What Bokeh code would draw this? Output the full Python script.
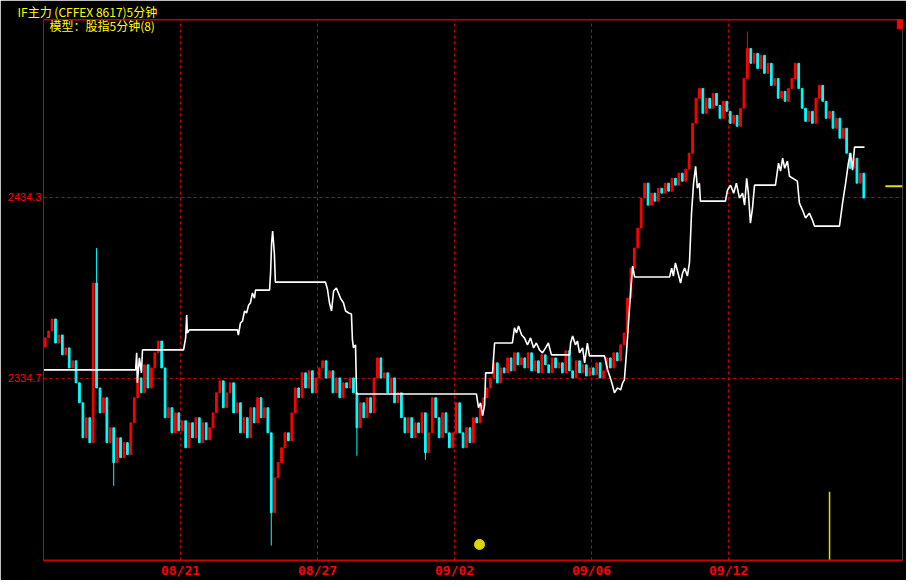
from bokeh.plotting import figure
from bokeh.models import FixedTicker, LinearAxis, Label, Range1d, ColumnDataSource
from bokeh.embed import file_html
from bokeh.resources import INLINE

# ---------------- data ----------------
title_text = "IF主力  (CFFEX 8617)5分钟"
model_text = "模型：股指5分钟(8)"

# x unit: one tenth of a trading day (10 bars per day), 08/15 starts at 0
date_ticks = [40, 80, 120, 160, 200]
date_labels = ["08/21", "08/27", "09/02", "09/06", "09/12"]
price_ticks = [2334.7, 2434.3]
price_labels = ["2334.7", "2434.3"]

first_open = 2352.0
close = [
    2357.0, 2360.8, 2367.4, 2354.2, 2358.6, 2347.7, 2351.5, 2340.5, 2344.4, 2332.3,
    2321.3, 2302.1, 2313.1, 2299.4, 2387.2, 2329.5, 2315.8, 2324.1, 2299.4, 2307.6,
    2288.4, 2302.1, 2291.1, 2299.4, 2292.8, 2310.3, 2324.1, 2335.0, 2326.8, 2342.2,
    2329.5, 2340.5, 2348.8, 2355.3, 2340.5, 2313.1, 2318.6, 2304.8, 2315.8, 2305.9,
    2311.4, 2296.6, 2310.3, 2302.1, 2313.1, 2299.4, 2310.3, 2301.0, 2307.6, 2315.8,
    2326.8, 2333.4, 2318.6, 2326.8, 2332.3, 2315.8, 2321.3, 2304.8, 2313.1, 2302.1,
    2318.6, 2310.3, 2324.1, 2313.1, 2318.6, 2304.8, 2260.9, 2280.1, 2288.4, 2296.6,
    2304.8, 2300.4, 2315.8, 2329.5, 2324.1, 2337.8, 2329.5, 2338.9, 2326.8, 2335.0,
    2340.5, 2344.4, 2335.0, 2338.9, 2326.8, 2335.0, 2324.1, 2332.3, 2329.5, 2335.0,
    2326.8, 2307.6, 2321.3, 2313.1, 2324.1, 2315.8, 2335.0, 2346.0, 2335.0, 2337.8,
    2326.8, 2335.0, 2321.3, 2326.8, 2313.1, 2304.8, 2313.1, 2302.1, 2310.3, 2304.8,
    2315.8, 2293.9, 2304.8, 2324.1, 2313.1, 2302.1, 2315.8, 2304.8, 2296.6, 2304.8,
    2321.3, 2304.8, 2296.6, 2307.6, 2299.4, 2313.1, 2310.3, 2318.6, 2324.1, 2329.5,
    2335.0, 2343.3, 2332.3, 2340.5, 2337.8, 2346.0, 2338.9, 2348.8, 2342.2, 2346.0,
    2340.5, 2348.8, 2338.9, 2344.4, 2337.8, 2347.7, 2342.2, 2337.8, 2346.0, 2340.5,
    2343.3, 2337.8, 2349.9, 2338.9, 2335.0, 2344.4, 2337.8, 2342.2, 2336.1, 2340.5,
    2336.7, 2343.3, 2335.0, 2338.9, 2346.0, 2340.5, 2348.8, 2344.4, 2353.2, 2359.7,
    2378.9, 2395.4, 2406.4, 2417.4, 2433.9, 2442.1, 2430.0, 2436.6, 2432.2, 2439.3,
    2436.6, 2442.1, 2437.7, 2444.8, 2441.0, 2447.6, 2443.2, 2449.8, 2458.6, 2475.0,
    2488.8, 2494.2, 2480.5, 2488.8, 2483.3, 2491.5, 2484.9, 2477.8, 2487.1, 2481.6,
    2475.0, 2479.4, 2473.4, 2483.3, 2499.7, 2516.2, 2508.0, 2513.5, 2505.2, 2512.4,
    2502.5, 2508.0, 2495.9, 2499.7, 2488.8, 2492.6, 2487.1, 2494.2, 2499.7, 2508.0,
    2494.2, 2483.3, 2476.1, 2481.6, 2475.0, 2488.8, 2495.9, 2487.1, 2477.8, 2481.6,
    2472.3, 2477.8, 2466.8, 2472.3, 2458.6, 2450.3, 2455.8, 2442.1, 2447.6, 2433.9,
]

# extra wicks on a few bars
wick_idx = [15, 20, 66, 91, 111, 205]
wick_hi = [2406.4, 2307.6, 2304.8, 2326.8, 2315.8, 2525.5]
wick_lo = [2329.5, 2275.7, 2242.8, 2292.2, 2290.0, 2499.7]

# model line (white)
model_x = [
    0, 26.9, 27.2, 27.4, 28.0, 28.6, 28.9,
    40.6, 40.9, 41.5, 41.8, 42.0, 42.6, 56.6, 56.9, 57.5, 58.1, 58.7, 59.3, 59.9, 60.4, 61.0, 61.6, 61.9,
    66.0, 66.3, 66.6, 66.9, 67.4, 67.7, 82.3, 82.9, 83.5, 84.1, 84.7, 85.5, 86.1, 86.7, 87.6, 88.2, 89.1,
    89.9, 90.2, 90.5, 91.1, 91.4,
    126.4, 127.0, 127.6, 128.2, 128.8, 129.1, 131.1, 131.7, 136.9, 137.5, 138.1, 138.7, 139.6, 140.4,
    141.3, 142.2, 143.1, 143.9, 144.8, 145.7, 146.6, 147.4, 148.3,
    153.6, 153.9, 154.5, 155.3, 155.9, 156.5, 157.4, 158.0, 158.8, 159.4, 163.8, 164.7, 165.5, 166.1,
    166.7, 167.6, 168.5, 169.1, 169.6, 170.2, 170.8, 171.4, 172.0, 172.6,
    182.8, 183.4, 183.9, 184.5, 185.1, 186.0, 186.6, 187.2, 188.0, 188.6, 189.2, 189.8, 190.4, 190.9,
    191.5, 191.8,
    199.1, 199.7, 200.6, 201.5, 202.3, 203.2, 204.1, 204.7, 205.3, 205.8, 206.4, 207.0, 207.6,
    213.7, 214.6, 215.2, 215.8, 216.4, 217.2, 217.8, 220.1, 220.7, 221.6, 222.5, 223.6, 224.5, 225.1,
    232.4, 233.3, 234.2, 235.0, 235.6, 236.2, 236.8, 239.7,
]
model_y = [
    2339.4, 2339.4, 2348.8, 2332.3, 2346.0, 2337.8, 2350.4,
    2350.4, 2350.4, 2357.0, 2369.6, 2359.7, 2361.4, 2361.4, 2358.6, 2365.2, 2366.3, 2371.8, 2370.7,
    2375.1, 2376.2, 2381.7, 2378.9, 2383.3,
    2383.3, 2392.7, 2409.2, 2415.7, 2403.7, 2387.7, 2387.7, 2383.9, 2376.2, 2371.8, 2382.8, 2384.4,
    2381.7, 2378.9, 2376.2, 2371.8, 2370.7, 2370.2, 2355.9, 2351.5, 2353.2, 2326.2,
    2326.2, 2318.6, 2321.3, 2314.2, 2320.2, 2337.8, 2337.8, 2354.2, 2354.2, 2362.5, 2359.7, 2363.6,
    2358.6, 2357.0, 2353.2, 2357.0, 2351.5, 2354.2, 2350.4, 2348.8, 2351.5, 2354.2, 2347.7,
    2347.7, 2354.2, 2358.1, 2353.2, 2355.3, 2348.8, 2351.5, 2343.3, 2354.2, 2347.1, 2347.1, 2339.4,
    2335.0, 2331.2, 2326.8, 2329.5, 2328.4, 2332.3, 2333.9, 2348.8, 2365.2, 2381.7, 2396.5, 2390.5,
    2390.5, 2395.4, 2391.0, 2398.2, 2393.8, 2387.2, 2392.7, 2395.4, 2391.0, 2398.2, 2425.6, 2442.1,
    2451.4, 2439.3, 2442.1, 2432.2,
    2432.2, 2438.2, 2441.0, 2436.6, 2442.1, 2433.9, 2436.6, 2430.0, 2444.8, 2436.6, 2420.1, 2428.4, 2441.0,
    2441.0, 2453.1, 2448.7, 2455.8, 2450.3, 2454.2, 2445.9, 2443.2, 2431.1, 2427.3, 2422.9, 2425.6,
    2421.8, 2418.5,
    2418.5, 2431.1, 2442.1, 2453.1, 2458.6, 2449.2, 2461.9, 2461.9,
]

# markers
last_price_x0 = 245.8
last_price = 2440.4
signal_x = 229.5
signal_top = 2272.4
dot_x = [127.3]
dot_y = [2243.4]

x_start, x_end = 0, 250.8
y_start, y_end = 2234.6, 2532.1

# ---------------- derived ----------------
opens = [first_open] + close[:-1]
xs = [i + 0.5 for i in range(len(close))]
RED = "#ff0000"
CYAN = "#00ffff"
colors = [RED if c >= o else CYAN for o, c in zip(opens, close)]
tops = [max(o, c) for o, c in zip(opens, close)]
bots = [min(o, c) for o, c in zip(opens, close)]

p = figure(width=906, height=580, output_backend="svg", toolbar_location=None,
           x_range=Range1d(x_start, x_end), y_range=Range1d(y_start, y_end),
           background_fill_color="#000000", border_fill_color="#000000",
           outline_line_color=None, min_border_left=43, min_border_right=4,
           min_border_top=0, min_border_bottom=0, x_axis_location=None, y_axis_location=None)

p.title.text = title_text
p.title.text_color = "#ffff00"
p.title.text_font = "Noto Sans CJK SC"
p.title.text_font_style = "normal"
p.title.text_font_size = "12px"
p.title.text_line_height = 1.0
p.title.align = "left"
p.title.offset = -26
p.title.standoff = 0

BORDER = "#c80000"


def plain_axis(ax):
    ax.major_tick_line_color = None
    ax.minor_tick_line_color = None
    ax.major_tick_out = 0
    ax.major_tick_in = 0
    ax.minor_tick_out = 0
    ax.minor_tick_in = 0


xaxis = LinearAxis(ticker=FixedTicker(ticks=date_ticks),
                   major_label_overrides={t: l for t, l in zip(date_ticks, date_labels)})
plain_axis(xaxis)
xaxis.axis_line_color = BORDER
xaxis.axis_line_width = 2
xaxis.bounds = (x_start, x_end)
xaxis.major_label_text_color = RED
xaxis.major_label_text_font = "DejaVu Sans Mono"
xaxis.major_label_text_font_style = "bold"
xaxis.major_label_text_font_size = "13px"
xaxis.major_label_standoff = 2
p.add_layout(xaxis, "below")

yaxis = LinearAxis(ticker=FixedTicker(ticks=price_ticks),
                   major_label_overrides={t: l for t, l in zip(price_ticks, price_labels)})
plain_axis(yaxis)
yaxis.axis_line_color = BORDER
yaxis.axis_line_width = 1
yaxis.bounds = (y_start, y_end)
yaxis.major_label_text_color = RED
yaxis.major_label_text_font = "Liberation Sans"
yaxis.major_label_text_font_size = "11px"
yaxis.major_label_standoff = 2
p.add_layout(yaxis, "left")

p.xgrid.ticker = FixedTicker(ticks=date_ticks)
p.ygrid.ticker = FixedTicker(ticks=price_ticks)
for g in (p.xgrid, p.ygrid):
    g.grid_line_color = "#d00000"
    g.grid_line_dash = "3 3"
    g.grid_line_width = 1

# top border of the price panel
p.segment(x0=[x_start], y0=[y_end], x1=[x_end], y1=[y_end], color=BORDER, line_width=2)

src = ColumnDataSource(dict(x=xs, top=tops, bottom=bots, color=colors))
p.vbar(x="x", top="top", bottom="bottom", width=0.5, color="color", source=src)

wsrc = ColumnDataSource(dict(
    x=[xs[i] for i in wick_idx], hi=wick_hi, lo=wick_lo, color=[colors[i] for i in wick_idx]))
p.segment(x0="x", y0="lo", x1="x", y1="hi", color="color", line_width=1, source=wsrc)

p.line(model_x, model_y, color="#ffffff", line_width=1.6)

p.segment(x0=[last_price_x0], y0=[last_price], x1=[x_end], y1=[last_price],
          color="#e0e000", line_width=2)
p.segment(x0=[signal_x], y0=[y_start], x1=[signal_x], y1=[signal_top], color="#e0e000", line_width=1.5)
p.scatter(dot_x, dot_y, size=10, color="#d8d800")
p.quad(left=[x_end - 1.5], right=[x_end], top=[y_end], bottom=[y_end - 5.0], color="#ff0000")

p.add_layout(Label(x=1.75, y=2528.8, text=model_text, text_color="#ffff00",
                   text_font="Noto Sans CJK SC", text_font_size="12px", text_baseline="middle"))

open("out.html", "w").write(file_html(p, INLINE))
